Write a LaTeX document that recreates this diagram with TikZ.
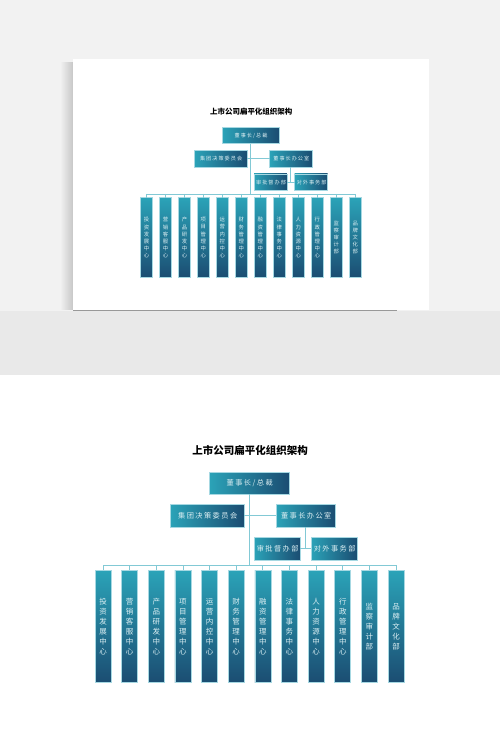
\documentclass[tikz,border=0pt]{standalone}
\usepackage{fontspec}
\newfontfamily\cjk{Noto Sans CJK SC}
\newfontfamily\cjkbox[LetterSpace=20]{Noto Sans CJK SC}
\usetikzlibrary{positioning}

\definecolor{boxlight}{HTML}{2BA3B8}
\definecolor{boxdark}{HTML}{1B4D72}
\definecolor{boxedge}{HTML}{A6D8E2}
\definecolor{boxtext}{HTML}{DCEFF3}
\definecolor{linkline}{HTML}{82C9D5}
\definecolor{wall}{HTML}{F2F2F2}
\definecolor{floor}{HTML}{E9E9E9}

\tikzset{
  unit/.style={draw=boxedge, line width=0.6pt, left color=boxlight, right color=boxdark,
    text=boxtext, font=\cjkbox\fontsize{7.2}{8}\selectfont, inner sep=0pt,
    execute at begin node={\kern1.4pt}},
  dept/.style={draw=boxedge, line width=0.6pt, top color=boxlight, bottom color=boxdark,
    text=boxtext, font=\cjk\fontsize{7.5}{10}\selectfont, align=center, text width=16pt,
    minimum width=16, minimum height=112, inner sep=0pt, anchor=north},
  link/.style={draw=linkline, line width=0.8pt},
}

% the chart, drawn twice: on the sheet and full size
\newcommand{\orgchart}{%
  \node[font=\cjk\bfseries\fontsize{10.5}{12}\selectfont] (title) at (250,450) {上市公司扁平化组织架构};
  \node[unit, minimum width=80, minimum height=22] (boss) at (249,483) {董事长/总裁};
  \node[unit, minimum width=74, minimum height=23] (board) at (207,515.5) {集团决策委员会};
  \node[unit, minimum width=59, minimum height=23] (office) at (305.5,515.5) {董事长办公室};
  \node[unit, minimum width=46, minimum height=23] (audit) at (277,548.5) {审批督办部};
  \node[unit, minimum width=46, minimum height=23] (affairs) at (334,548.5) {对外事务部};
  \coordinate (bus) at (249,565);
  \foreach \t [count=\i] in {投\\资\\发\\展\\中\\心, 营\\销\\客\\服\\中\\心, 产\\品\\研\\发\\中\\心,
      项\\目\\管\\理\\中\\心, 运\\营\\内\\控\\中\\心, 财\\务\\管\\理\\中\\心, 融\\资\\管\\理\\中\\心,
      法\\律\\事\\务\\中\\心, 人\\力\\资\\源\\中\\心, 行\\政\\管\\理\\中\\心, 监\\察\\审\\计\\部,
      品\\牌\\文\\化\\部}
    \node[dept] (d\i) at ({103+26.64*(\i-1)},570) {\t};
  \draw[link] (boss.south) -- (bus);
  \draw[link] (d1.north |- bus) -- (d12.north |- bus);
  \foreach \i in {1,...,12}
    \draw[link] (d\i.north |- bus) -- (d\i.north);
  \draw[link] (board.east) -- (office.west);
  \draw[link] (office.south) -- (office.south |- audit.east);
  \draw[link] (audit.east) -- (affairs.west);
}

\begin{document}
\begin{tikzpicture}[x=1pt, y=-1pt]
\useasboundingbox (0,0) rectangle (500,753);
\fill[white] (0,0) rectangle (500,753);
% mock-up: wall, shelf and sheet
\fill[wall] (0,0) rectangle (500,311);
\fill[floor] (0,311) rectangle (500,375);
\shade[left color=wall, right color=black!22] (60,62) rectangle (73,309);
\fill[white] (73,59) rectangle (429,310);
\draw[black!40, line width=1pt] (73,310.5) -- (397,310.5);
\begin{scope}[shift={(73,-208.9)}, scale=0.713, transform shape]
  \orgchart
\end{scope}
% full size chart
\orgchart
\end{tikzpicture}
\end{document}
